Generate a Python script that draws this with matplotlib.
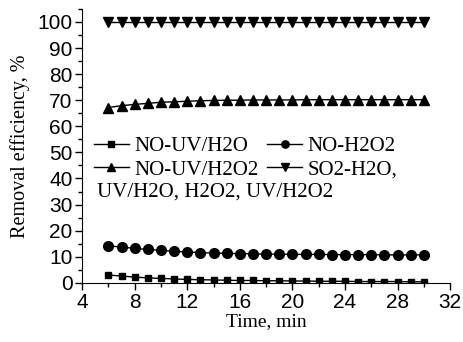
import matplotlib
matplotlib.use("Agg")
import matplotlib.pyplot as plt
from matplotlib.ticker import MultipleLocator

time = list(range(6, 31))
no_uv_h2o = [3.0, 2.6, 2.2, 1.9, 1.7, 1.5, 1.3, 1.2, 1.1, 1.0, 0.9, 0.9, 0.8, 0.8, 0.7,
             0.7, 0.6, 0.6, 0.6, 0.5, 0.5, 0.5, 0.5, 0.4, 0.4]
no_h2o2 = [14.2, 13.7, 13.2, 12.8, 12.4, 12.1, 11.8, 11.6, 11.4, 11.3, 11.2, 11.1, 11.0, 11.0, 10.9,
           10.9, 10.9, 10.8, 10.8, 10.8, 10.8, 10.7, 10.7, 10.7, 10.7]
no_uv_h2o2 = [67.2, 67.9, 68.4, 68.8, 69.2, 69.4, 69.6, 69.8, 69.9, 70.0, 70.0, 70.1, 70.1, 70.1, 70.1,
              70.2, 70.2, 70.2, 70.2, 70.2, 70.2, 70.2, 70.2, 70.2, 70.2]
so2 = [100.0] * 25

fig = plt.figure(figsize=(4.64, 3.42), dpi=100)
ax = fig.add_axes([0.177, 0.173, 0.793, 0.801])

l1, = ax.plot(time, no_uv_h2o, "k-s", ms=5, lw=1)
l2, = ax.plot(time, no_h2o2, "k-o", ms=7, lw=1)
l3, = ax.plot(time, no_uv_h2o2, "k-^", ms=7, lw=1)
l4, = ax.plot(time, so2, "k-v", ms=7, lw=1)

ax.set_xlim(4, 32)
ax.set_ylim(0, 105)
ax.xaxis.set_major_locator(MultipleLocator(4))
ax.xaxis.set_minor_locator(MultipleLocator(2))
ax.yaxis.set_major_locator(MultipleLocator(10))
ax.yaxis.set_minor_locator(MultipleLocator(5))
ax.spines["top"].set_visible(False)
ax.spines["right"].set_visible(False)
ax.tick_params(which="major", direction="out", length=5, width=1, labelsize=15, pad=2)
ax.tick_params(which="minor", direction="out", length=3, width=1)
for lab in ax.get_xticklabels() + ax.get_yticklabels():
    lab.set_family("Liberation Sans")

ax.set_xlabel("Time, min", family="Liberation Serif", fontsize=14, labelpad=1)
ax.set_ylabel("Removal efficiency, %", family="Liberation Serif", fontsize=14.5, labelpad=5)

leg = ax.legend([l1, l3, l2, l4], ["NO-UV/H2O", "NO-UV/H2O2", "NO-H2O2", "SO2-H2O,"],
                ncol=2, loc="upper left", bbox_to_anchor=(0.02, 0.55), frameon=False,
                prop={"family": "Liberation Serif", "size": 15}, handlelength=1.7,
                handletextpad=0.25, columnspacing=0.4, labelspacing=0.2, markerscale=0.75,
                borderpad=0.2, borderaxespad=0)
ax.text(0.04, 0.33, "UV/H2O, H2O2, UV/H2O2", transform=ax.transAxes,
        family="Liberation Serif", fontsize=15, va="center")

fig.savefig("out.png", dpi=100)
